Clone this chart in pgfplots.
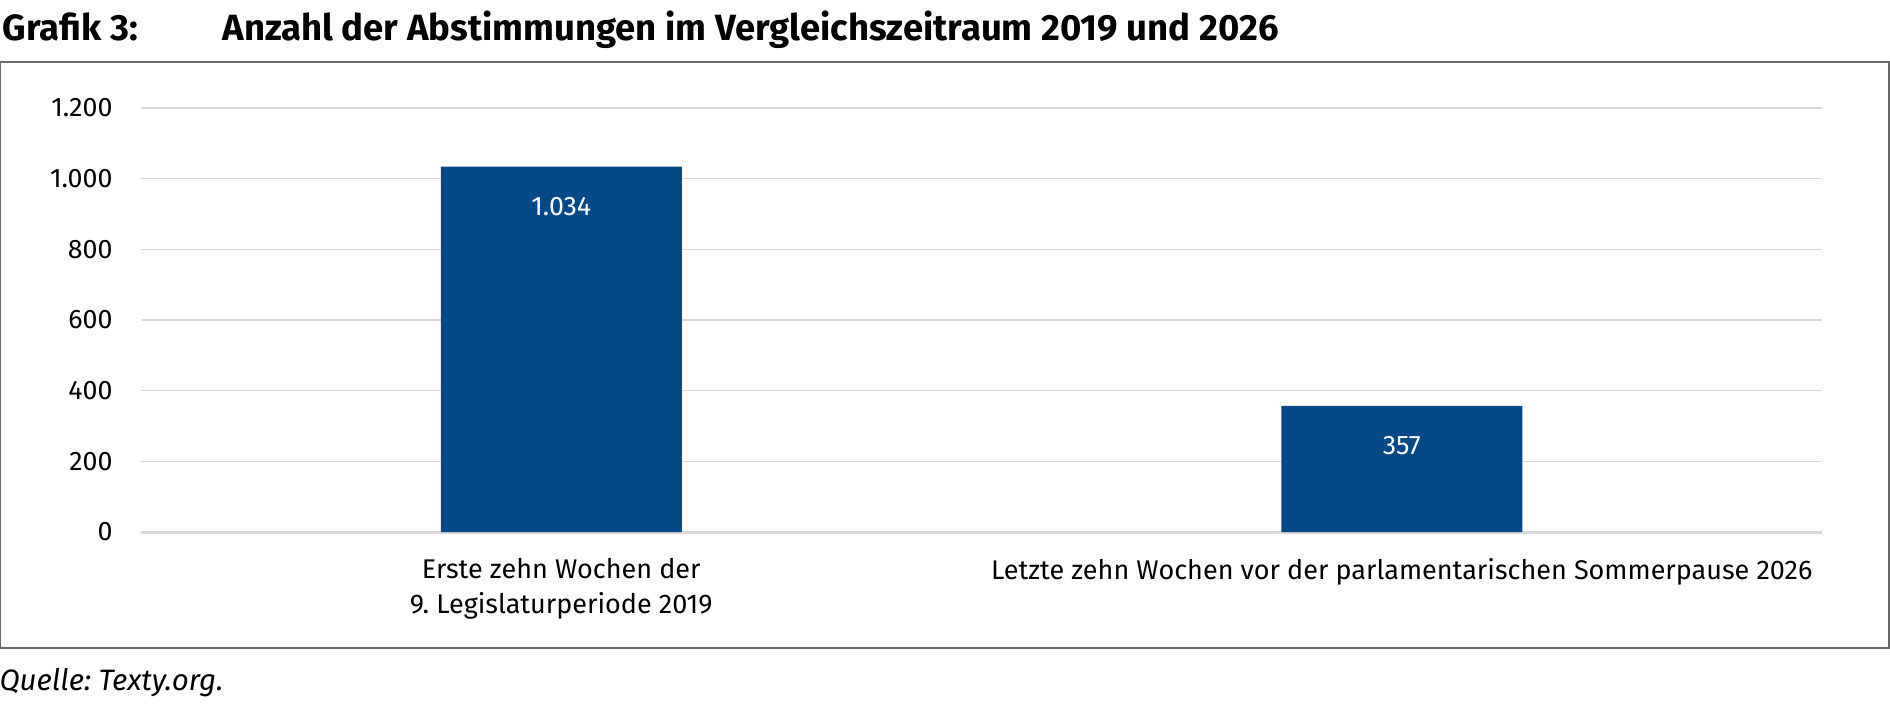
\documentclass[border=0pt]{standalone}
\usepackage{pgfplots}
\pgfplotsset{compat=1.18}
\usepackage{fontspec}
\setmainfont{Fira Sans}
\definecolor{barblue}{RGB}{3,72,135}
\definecolor{gridgray}{RGB}{217,217,217}
\definecolor{framegray}{RGB}{105,105,105}
\def\u{0.4pt}
\frenchspacing
\begin{document}
\begin{tikzpicture}
\useasboundingbox (0,0) rectangle (1890*\u,-703*\u);
\node[anchor=base west, inner sep=0pt, font=\bfseries\fontsize{14.6}{17}\selectfont] at (2*\u,-40*\u) {Grafik 3:};
\node[anchor=base west, inner sep=0pt, font=\bfseries\fontsize{14.6}{17}\selectfont] at (222*\u,-40*\u) {Anzahl der Abstimmungen im Vergleichszeitraum 2019 und 2026};
\draw[line width=1.5*\u, color=framegray] (0.75*\u,-62*\u) rectangle (1889*\u,-648*\u);
\begin{axis}[
  at={(56.4pt,-212.8pt)}, anchor=south west,
  scale only axis, width=672.4pt, height=169.6pt,
  xmin=-0.5, xmax=1.5, ymin=0, ymax=1200,
  enlargelimits=false,
  axis line style={draw=none},
  major tick length=0pt,
  ytick={0,200,400,600,800,1000,1200},
  yticklabels={0,200,400,600,800,1.000,1.200},
  ymajorgrids,
  grid style={color=gridgray, line width=0.5pt},
  extra y ticks={0},
  extra y tick labels={},
  extra y tick style={grid style={color=gridgray, line width=1.2pt}},
  yticklabel style={anchor=east, inner sep=0pt, xshift=-11.2pt, font=\fontsize{10.7}{12}\selectfont},
  xtick={0,1},
  xticklabels={{Erste zehn Wochen der\\9. Legislaturperiode 2019},{Letzte zehn Wochen vor der parlamentarischen Sommerpause 2026}},
  xticklabel style={align=center, anchor=north, inner sep=0pt, yshift=-10.2pt, font=\fontsize{10.8}{14}\selectfont},
  ybar, bar width=96.4pt,
  nodes near coords,
  point meta=explicit symbolic,
  every node near coord/.append style={anchor=north, yshift=-12pt, inner sep=0pt, text=white, font=\fontsize{10.7}{12}\selectfont},
]
\addplot[fill=barblue, draw=none] coordinates {(0,1034) [1.034] (1,357) [357]};
\end{axis}
\node[anchor=base west, inner sep=0pt, font=\itshape\fontsize{11.8}{13}\selectfont] at (-1*\u,-690*\u) {Quelle: Texty.org.};
\end{tikzpicture}
\end{document}
